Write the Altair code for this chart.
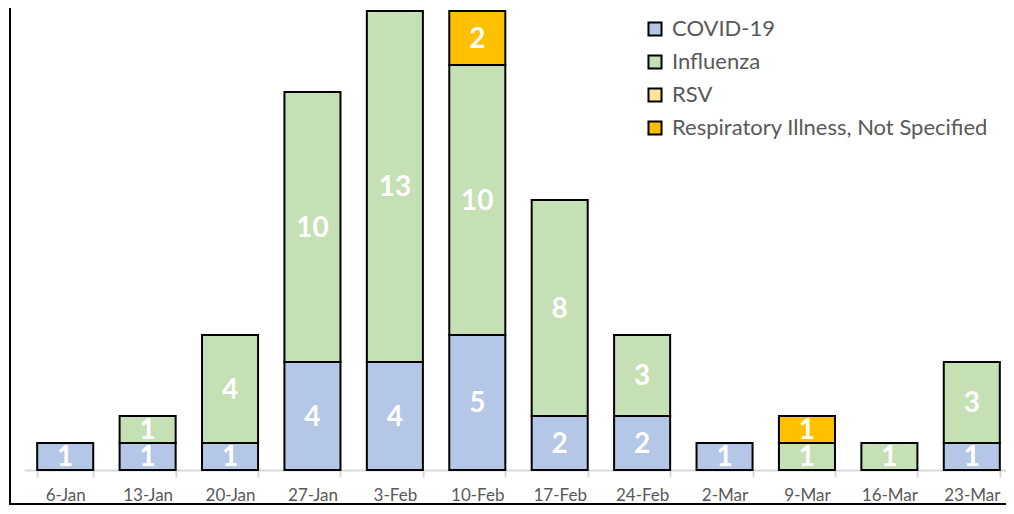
import altair as alt
import pandas as pd

weeks = ["6-Jan", "13-Jan", "20-Jan", "27-Jan", "3-Feb", "10-Feb",
         "17-Feb", "24-Feb", "2-Mar", "9-Mar", "16-Mar", "23-Mar"]
series = ["COVID-19", "Influenza", "RSV", "Respiratory Illness, Not Specified"]
covid = [1, 1, 1, 4, 4, 5, 2, 2, 1, 0, 0, 1]
influenza = [0, 1, 4, 10, 13, 10, 8, 3, 0, 1, 1, 3]
rsv = [0, 0, 0, 0, 0, 0, 0, 0, 0, 0, 0, 0]
rins = [0, 0, 0, 0, 0, 2, 0, 0, 0, 1, 0, 0]
colors = ["#b4c7e7", "#c5e0b4", "#ffe699", "#ffc000"]

rows = []
for i, w in enumerate(weeks):
    base = 0
    for k, (s, vals) in enumerate(zip(series, [covid, influenza, rsv, rins])):
        v = vals[i]
        rows.append({"week": w, "series": s, "order": k, "value": v,
                     "y0": base, "y1": base + v, "mid": base + v / 2})
        base += v
df = pd.DataFrame(rows)

FONT = "Lato"
W, H = 982, 462
xscale = alt.Scale(paddingInner=0.32, paddingOuter=0.16, range=[0, 989])
xenc = alt.X("week:N", sort=weeks, title=None, scale=xscale,
             axis=alt.Axis(labelAngle=0, labelFont=FONT, labelFontSize=17,
                           labelColor="#595959", domainColor="#d9d9d9",
                           domainWidth=2, tickColor="#d9d9d9", tickWidth=2,
                           tickSize=7, tickBand="extent", labelPadding=10))
yscale = alt.Scale(domain=[0, 17.11], nice=False)

bars = alt.Chart(df).transform_filter("datum.value > 0").mark_bar(
    stroke="black", strokeWidth=2).encode(
    x=xenc,
    y=alt.Y("y0:Q", scale=yscale, axis=None),
    y2="y1:Q",
    color=alt.Color("series:N", sort=series,
                    scale=alt.Scale(domain=series, range=colors),
                    legend=alt.Legend(title=None, orient="none", legendX=620,
                                      legendY=10, symbolType="square",
                                      symbolSize=170, symbolStrokeColor="black",
                                      symbolStrokeWidth=2, labelFont=FONT,
                                      labelFontSize=22, labelColor="#595959",
                                      rowPadding=11, labelOffset=6,
                                      labelLimit=400)),
)

labels = alt.Chart(df).transform_filter("datum.value > 0").mark_text(
    color="white", font=FONT, fontSize=28, fontWeight="bold",
    baseline="middle", dy=2).encode(
    x=alt.X("week:N", sort=weeks, scale=xscale),
    y=alt.Y("mid:Q", scale=yscale, axis=None),
    text="value:Q",
)

frame_left = alt.Chart(df).mark_rule(color="black", strokeWidth=2).encode(
    x=alt.value(-14), y=alt.value(-20), y2=alt.value(497))
frame_bottom = alt.Chart(df).mark_rule(color="black", strokeWidth=2).encode(
    x=alt.value(-14), x2=alt.value(1000), y=alt.value(496))

chart = alt.layer(bars, labels, frame_left, frame_bottom).properties(
    width=W, height=H,
    background="white",
    autosize=alt.AutoSizeParams(type="none"),
    padding={"left": 16, "top": 0, "right": 0, "bottom": 36},
).configure_view(stroke=None, strokeWidth=0)

chart.save("out.html", embed_options={"renderer": "svg", "actions": False})
